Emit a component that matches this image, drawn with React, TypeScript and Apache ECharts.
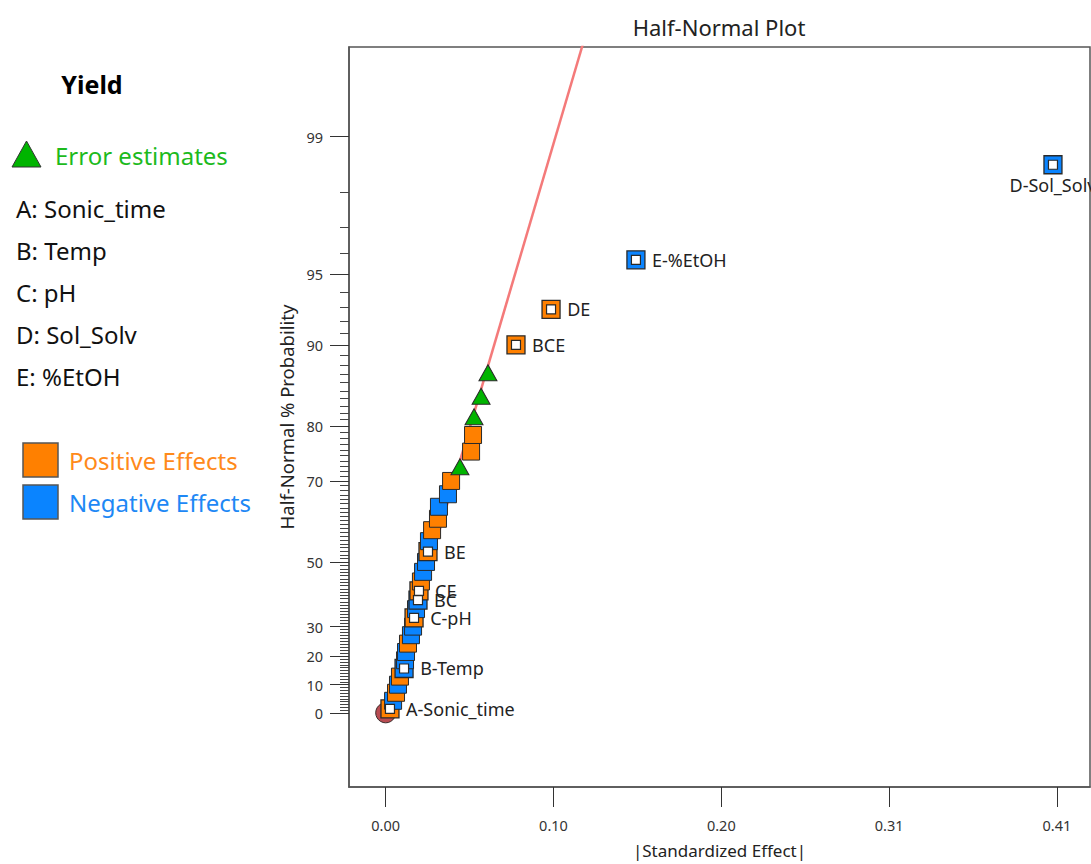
import React, { useEffect, useRef } from 'react';
import * as echarts from 'echarts';

// ---------- data ----------
const responseName = 'Yield';
const factorLabels = ['A: Sonic_time', 'B: Temp', 'C: pH', 'D: Sol_Solv', 'E: %EtOH'];

// |Standardized Effect| in rank order
const effectSize = [
  0.0026, 0.0045, 0.0063, 0.0075, 0.0087, 0.0112, 0.0118, 0.0124, 0.0136, 0.0154,
  0.0167, 0.0173, 0.0185, 0.0197, 0.0203, 0.0215, 0.0228, 0.0246, 0.0258, 0.0264,
  0.0283, 0.0319, 0.0325, 0.0380, 0.0399, 0.0453, 0.0521, 0.0533, 0.0539, 0.0582,
  0.0624, 0.0795, 0.1009, 0.1527, 0.4072,
];
// Half-normal % probability of each ranked effect
const probability = [
  1.43, 4.29, 7.14, 10.0, 12.86, 15.71, 18.57, 21.43, 24.29, 27.14,
  30.0, 32.86, 35.71, 38.57, 41.43, 44.29, 47.14, 50.0, 52.86, 55.71,
  58.57, 61.43, 64.29, 67.14, 70.0, 72.86, 75.71, 78.57, 81.43, 84.29,
  87.14, 90.0, 92.86, 95.71, 98.57,
];
const effectKind = [
  'pos', 'neg', 'pos', 'neg', 'pos', 'neg', 'neg', 'neg', 'pos', 'neg',
  'neg', 'pos', 'neg', 'neg', 'pos', 'pos', 'neg', 'neg', 'pos', 'neg',
  'pos', 'pos', 'neg', 'neg', 'pos', 'err', 'pos', 'pos', 'err', 'err',
  'err', 'pos', 'pos', 'neg', 'neg',
];
const termLabel = [
  'A-Sonic_time', '', '', '', '', 'B-Temp', '', '', '', '',
  '', 'C-pH', '', 'BC', 'CE', '', '', '', 'BE', '',
  '', '', '', '', '', '', '', '', '', '',
  '', 'BCE', 'DE', 'E-%EtOH', 'D-Sol_Solv',
];

const refLineEffect = [0, 0.125];
const refLineProb = [0, 99.81];
const originEffect = [0];
const originProb = [0];

const xTickValues = [0, 0.1024, 0.2048, 0.3072, 0.4096];
const xTickLabels = ['0.00', '0.10', '0.20', '0.31', '0.41'];
const yMajorPct = [0, 10, 20, 30, 50, 70, 80, 90, 95, 99];
const yMajorLabels = ['0', '10', '20', '30', '50', '70', '80', '90', '95', '99'];

const legendEntries = ['Error estimates', 'Positive Effects', 'Negative Effects'];

// ---------- helpers ----------
const ORANGE = '#FF8000';
const BLUE = '#0A84FF';
const GREEN = '#00B400';
const FONT = '"Noto Sans", "Open Sans", sans-serif';

function invNorm(p: number): number {
  const a = [-3.969683028665376e1, 2.209460984245205e2, -2.759285104469687e2, 1.38357751867269e2, -3.066479806614716e1, 2.506628277459239];
  const b = [-5.447609879822406e1, 1.615858368580409e2, -1.556989798598866e2, 6.680131188771972e1, -1.328068155288572e1];
  const c = [-7.784894002430293e-3, -3.223964580411365e-1, -2.400758277161838, -2.549671010336134, 4.374664141464968, 2.938163982698783];
  const d = [7.784695709041462e-3, 3.224671290700398e-1, 2.445134137142996, 3.754408661907416];
  const pl = 0.02425;
  const ph = 1 - pl;
  if (p < pl) {
    const q = Math.sqrt(-2 * Math.log(p));
    return (((((c[0] * q + c[1]) * q + c[2]) * q + c[3]) * q + c[4]) * q + c[5]) / ((((d[0] * q + d[1]) * q + d[2]) * q + d[3]) * q + 1);
  }
  if (p <= ph) {
    const q = p - 0.5;
    const r = q * q;
    return ((((((a[0] * r + a[1]) * r + a[2]) * r + a[3]) * r + a[4]) * r + a[5]) * q) / (((((b[0] * r + b[1]) * r + b[2]) * r + b[3]) * r + b[4]) * r + 1);
  }
  const q = Math.sqrt(-2 * Math.log(1 - p));
  return -(((((c[0] * q + c[1]) * q + c[2]) * q + c[3]) * q + c[4]) * q + c[5]) / ((((d[0] * q + d[1]) * q + d[2]) * q + d[3]) * q + 1);
}
// half-normal probability scale
const hz = (pct: number) => (pct <= 0 ? 0 : invNorm(0.5 + pct / 200));

const yMajorZ = yMajorPct.map(hz);
const yMinorZ: number[] = [];
for (let k = 1; k < 99; k++) if (!yMajorPct.includes(k)) yMinorZ.push(hz(k));

const kindColor = (k: string) => (k === 'pos' ? ORANGE : k === 'neg' ? BLUE : GREEN);

export default function App() {
  const ref = useRef<HTMLDivElement>(null);
  useEffect(() => {
    const chart = echarts.init(ref.current!, null, { renderer: 'svg' });

    const mainData = effectSize.map((x, i) => {
      const k = effectKind[i];
      const sel = termLabel[i] !== '';
      return {
        value: [x, hz(probability[i])],
        symbol: k === 'err' ? 'triangle' : 'rect',
        symbolSize: k === 'err' ? [18, 16] : sel ? 18 : 17,
        itemStyle: { color: kindColor(k), borderColor: '#2a2a2a', borderWidth: sel ? 1.3 : 1, opacity: 1 },
      };
    });
    const innerData = effectSize
      .map((x, i) => ({ i, x }))
      .filter((o) => termLabel[o.i] !== '')
      .map((o) => {
        const isD = termLabel[o.i] === 'D-Sol_Solv';
        return {
          value: [o.x, hz(probability[o.i])],
          label: {
            show: true,
            formatter: termLabel[o.i],
            position: isD ? 'bottom' : 'right',
            distance: isD ? 6 : 11,
            offset: isD ? [-6, 0] : [0, 4],
            fontSize: 18,
            fontFamily: FONT,
            color: '#222',
          },
        };
      });

    const legendGraphics: any[] = [
      { type: 'text', x: 92, y: 84, style: { text: responseName, fill: '#000', fontSize: 25, fontWeight: 'bold', fontFamily: FONT, align: 'center', verticalAlign: 'middle' } },
      { type: 'polygon', shape: { points: [[12, 167], [26.5, 141], [41, 167]] }, style: { fill: GREEN, stroke: '#333', lineWidth: 1 } },
      { type: 'text', x: 55, y: 155, style: { text: legendEntries[0], fill: '#1DBA1D', fontSize: 24, fontFamily: FONT, align: 'left', verticalAlign: 'middle' } },
      { type: 'rect', shape: { x: 23, y: 443, width: 35, height: 34 }, style: { fill: ORANGE, stroke: '#555', lineWidth: 1.5 } },
      { type: 'text', x: 69, y: 460, style: { text: legendEntries[1], fill: '#FF8A1A', fontSize: 24, fontFamily: FONT, align: 'left', verticalAlign: 'middle' } },
      { type: 'rect', shape: { x: 23, y: 485, width: 35, height: 34 }, style: { fill: BLUE, stroke: '#555', lineWidth: 1.5 } },
      { type: 'text', x: 69, y: 502, style: { text: legendEntries[2], fill: '#1E88F5', fontSize: 24, fontFamily: FONT, align: 'left', verticalAlign: 'middle' } },
      { type: 'text', x: 719, y: 27, style: { text: 'Half-Normal Plot', fill: '#222', fontSize: 22, fontFamily: FONT, align: 'center', verticalAlign: 'middle' } },
    ];
    factorLabels.forEach((t, i) => {
      legendGraphics.push({ type: 'text', x: 16, y: 208 + i * 42, style: { text: t, fill: '#111', fontSize: 24, fontFamily: FONT, align: 'left', verticalAlign: 'middle' } });
    });

    const yBase = { type: 'value', min: -0.3315, max: 2.976, position: 'left', splitLine: { show: false } };

    chart.setOption({
      animation: false,
      backgroundColor: '#fff',
      textStyle: { fontFamily: FONT },
      grid: { left: 349, right: 1, top: 47, bottom: 76, show: true, borderColor: '#555', borderWidth: 1.5, backgroundColor: 'transparent' },
      graphic: legendGraphics,
      xAxis: {
        type: 'value',
        min: -0.0224,
        max: 0.4298,
        name: '|Standardized Effect|',
        nameLocation: 'middle',
        nameGap: 55,
        nameTextStyle: { fontSize: 17, color: '#222', fontFamily: FONT },
        axisLine: { show: true, onZero: false, lineStyle: { color: '#555', width: 1.5 } },
        axisTick: { show: true, length: 20, customValues: xTickValues, lineStyle: { color: '#333' } },
        axisLabel: {
          customValues: xTickValues,
          margin: 30,
          fontSize: 14.5,
          color: '#333',
          fontFamily: FONT,
          formatter: (v: number) => {
            const k = xTickValues.findIndex((t) => Math.abs(t - v) < 1e-6);
            return k >= 0 ? xTickLabels[k] : '';
          },
        },
        splitLine: { show: false },
      },
      yAxis: [
        {
          ...yBase,
          name: 'Half-Normal % Probability',
          nameLocation: 'middle',
          nameGap: 52,
          nameRotate: 90,
          nameTextStyle: { fontSize: 18.5, color: '#222', fontFamily: FONT },
          axisLine: { show: true, onZero: false, lineStyle: { color: '#555', width: 1.5 } },
          axisTick: { show: true, length: 19, customValues: yMajorZ, lineStyle: { color: '#333' } },
          axisLabel: {
            customValues: yMajorZ,
            margin: 26,
            fontSize: 14.5,
            color: '#333',
            fontFamily: FONT,
            formatter: (v: number) => {
              const k = yMajorZ.findIndex((t) => Math.abs(t - v) < 1e-6);
              return k >= 0 ? yMajorLabels[k] : '';
            },
          },
        },
        {
          ...yBase,
          axisLine: { show: false, onZero: false },
          axisTick: { show: true, length: 9, customValues: yMinorZ, lineStyle: { color: '#444' } },
          axisLabel: { show: false },
        },
      ],
      series: [
        {
          type: 'line',
          silent: true,
          symbol: 'none',
          data: refLineEffect.map((x, i) => [x, hz(refLineProb[i])]),
          lineStyle: { color: '#F47A7A', width: 2.5 },
          z: 1,
        },
        {
          type: 'scatter',
          silent: true,
          data: originEffect.map((x, i) => [x, hz(originProb[i])]),
          symbol: 'circle',
          symbolSize: 20,
          itemStyle: { color: '#B94C52', borderColor: '#3a2a2a', borderWidth: 1, opacity: 1 },
          z: 2,
        },
        {
          type: 'scatter',
          silent: true,
          data: mainData,
          z: 3,
        },
        {
          type: 'scatter',
          silent: true,
          data: innerData,
          symbol: 'rect',
          symbolSize: 9,
          itemStyle: { color: '#fff', borderColor: '#2a2a2a', borderWidth: 1.2, opacity: 1 },
          labelLayout: { hideOverlap: false },
          z: 4,
        },
      ],
    });
    return () => chart.dispose();
  }, []);

  return <div ref={ref} style={{ position: 'fixed', left: 0, top: 0, width: 1091, height: 864 }} />;
}
